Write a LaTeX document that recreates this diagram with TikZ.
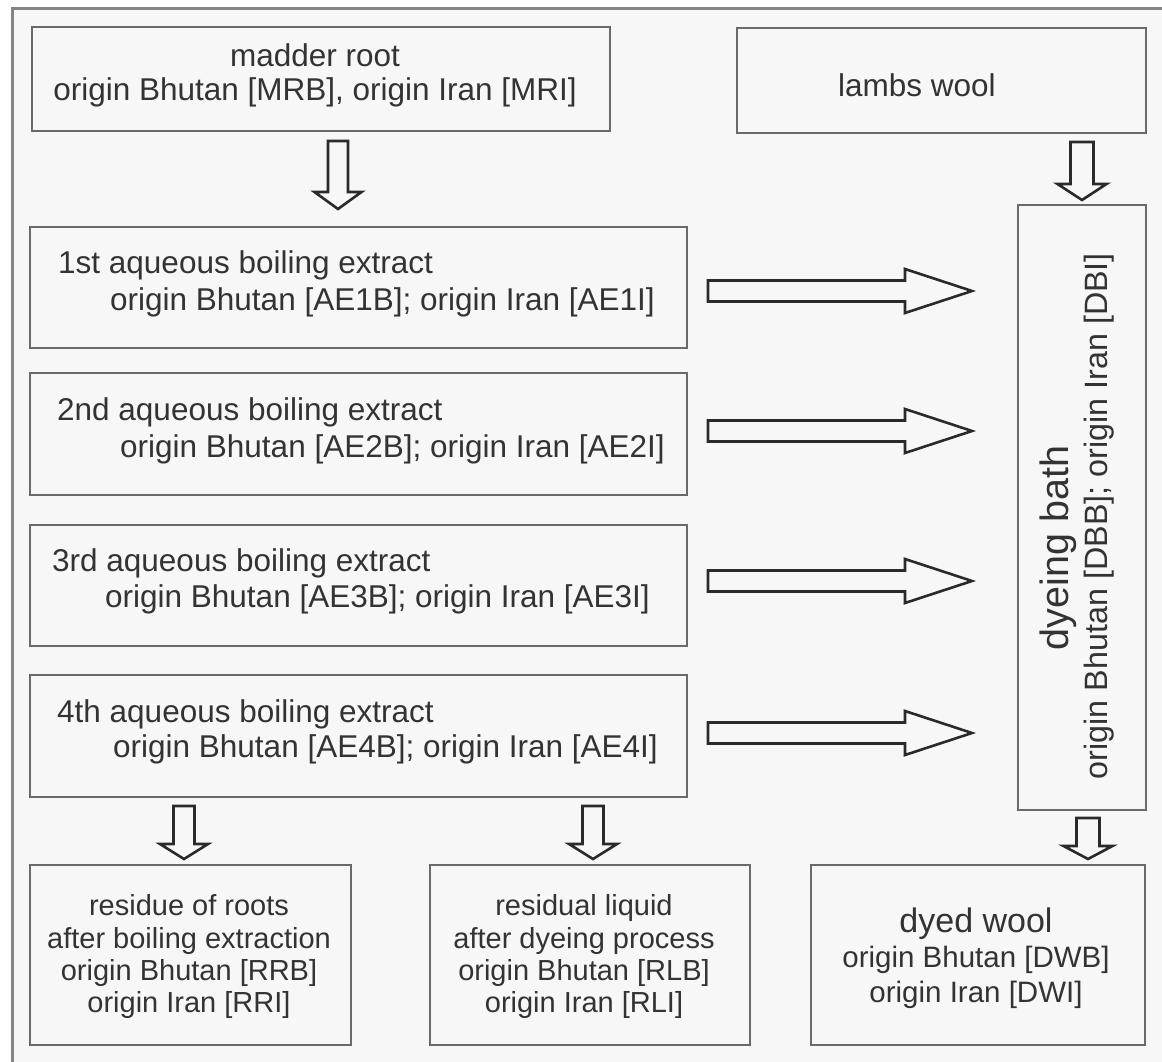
\documentclass[tikz,border=0pt]{standalone}
\usepackage{fontspec}
\setmainfont{Liberation Sans}
\usetikzlibrary{calc}
\definecolor{bgc}{HTML}{F7F7F7}
\definecolor{framec}{HTML}{858585}
\definecolor{boxc}{HTML}{6A6A6A}
\definecolor{arrc}{HTML}{2A2A2A}
\definecolor{txtc}{HTML}{333333}
\newcommand{\blkdown}[5]{%
  \draw[blk] ($(#1)+(-#3,0)$) -- ($(#2)+(-#3,-#5)$) -- ($(#2)+(-#4,-#5)$) -- (#2)
    -- ($(#2)+(#4,-#5)$) -- ($(#2)+(#3,-#5)$) -- ($(#1)+(#3,0)$) -- cycle;}
\newcommand{\blkright}[5]{%
  \draw[blk] ($(#1)+(0,-#3)$) -- ($(#2)+(-#5,-#3)$) -- ($(#2)+(-#5,-#4)$) -- (#2)
    -- ($(#2)+(-#5,#4)$) -- ($(#2)+(-#5,#3)$) -- ($(#1)+(0,#3)$) -- cycle;}
\begin{document}
\begin{tikzpicture}[x=1pt,y=-1pt,
  boxnode/.style={draw=boxc, line width=2pt, inner sep=0pt, fill=bgc},
  blk/.style={draw=arrc, line width=2.6pt, fill=bgc, line join=miter},
  txt/.style={inner sep=0pt, text=txtc, font=\fontsize{31.5}{36}\selectfont},
  stxt/.style={inner sep=0pt, text=txtc, font=\fontsize{29}{33}\selectfont}]
\useasboundingbox (0,0) rectangle (1162,1062);
\fill[white] (0,0) rectangle (1162,1062);
\fill[bgc] (12.5,8.5) rectangle (1162,1062);
\draw[framec, line width=2.5pt] (12.5,1062) -- (12.5,8.5) -- (1162,8.5);

% boxes
\node[boxnode, minimum width=578pt, minimum height=104pt] (madder) at (321,79) {};
\node[boxnode, minimum width=409pt, minimum height=105pt] (lambs) at (941.5,80.5) {};
\node[boxnode, minimum width=657pt, minimum height=121pt] (ae1) at (358.5,287.5) {};
\node[boxnode, minimum width=657pt, minimum height=122pt] (ae2) at (358.5,434) {};
\node[boxnode, minimum width=657pt, minimum height=121pt] (ae3) at (358.5,585.5) {};
\node[boxnode, minimum width=657pt, minimum height=122pt] (ae4) at (358.5,736) {};
\node[boxnode, minimum width=128pt, minimum height=605pt] (bath) at (1082,507.5) {};
\node[boxnode, minimum width=321pt, minimum height=180pt] (rr) at (190.5,955) {};
\node[boxnode, minimum width=320pt, minimum height=180pt] (rl) at (590,955) {};
\node[boxnode, minimum width=334pt, minimum height=180pt] (dw) at (978,955) {};

% texts
\node[txt, anchor=base] (madderA) at (315,67) {madder root};
\node[txt, anchor=base] (madderB) at (315,101) {origin Bhutan [MRB], origin Iran [MRI]};
\node[txt, anchor=base] (lambsA) at (917,97) {lambs wool};

\node[txt, anchor=base west] (ae1A) at (58,273) {1st aqueous boiling extract};
\node[txt, anchor=base west] (ae1B) at (110,310) {origin Bhutan [AE1B]; origin Iran [AE1I]};
\node[txt, anchor=base west] (ae2A) at (57,420) {2nd aqueous boiling extract};
\node[txt, anchor=base west] (ae2B) at (120,457) {origin Bhutan [AE2B]; origin Iran [AE2I]};
\node[txt, anchor=base west] (ae3A) at (52,571) {3rd aqueous boiling extract};
\node[txt, anchor=base west] (ae3B) at (105,607) {origin Bhutan [AE3B]; origin Iran [AE3I]};
\node[txt, anchor=base west] (ae4A) at (57,722) {4th aqueous boiling extract};
\node[txt, anchor=base west] (ae4B) at (113,757) {origin Bhutan [AE4B]; origin Iran [AE4I]};

\node[inner sep=0pt, text=txtc, font=\fontsize{39.5}{44}\selectfont, rotate=90, anchor=base] (bathA) at (1068,548) {dyeing bath};
\node[inner sep=0pt, text=txtc, font=\fontsize{32.3}{36}\selectfont, rotate=90, anchor=base] (bathB) at (1107,516) {origin Bhutan [DBB]; origin Iran [DBI]};

\node[stxt, anchor=base] (rrA) at (189,915) {residue of roots};
\node[stxt, anchor=base] (rrB) at (189,948) {after boiling extraction};
\node[stxt, anchor=base] (rrC) at (189,980) {origin Bhutan [RRB]};
\node[stxt, anchor=base] (rrD) at (189,1012) {origin Iran [RRI]};
\node[stxt, anchor=base] (rlA) at (584,915) {residual liquid};
\node[stxt, anchor=base] (rlB) at (584,948) {after dyeing process};
\node[stxt, anchor=base] (rlC) at (584,980) {origin Bhutan [RLB]};
\node[stxt, anchor=base] (rlD) at (584,1012) {origin Iran [RLI]};
\node[inner sep=0pt, text=txtc, font=\fontsize{34}{38}\selectfont, anchor=base] (dwA) at (976,932) {dyed wool};
\node[inner sep=0pt, text=txtc, font=\fontsize{29.5}{33}\selectfont, anchor=base] (dwB) at (976,967) {origin Bhutan [DWB]};
\node[inner sep=0pt, text=txtc, font=\fontsize{29.5}{33}\selectfont, anchor=base] (dwC) at (976,1002) {origin Iran [DWI]};

% arrow end points
\coordinate (m1) at (338,141);   \coordinate (m2) at (338,209);
\coordinate (l1) at (1082,142);  \coordinate (l2) at (1082,200);
\coordinate (h1s) at (708,291);  \coordinate (h1e) at (972,291);
\coordinate (h2s) at (708,431);  \coordinate (h2e) at (972,431);
\coordinate (h3s) at (708,581);  \coordinate (h3e) at (972,581);
\coordinate (h4s) at (708,733);  \coordinate (h4e) at (972,733);
\coordinate (b1s) at (184,806);  \coordinate (b1e) at (184,859);
\coordinate (b2s) at (593,806);  \coordinate (b2e) at (593,859);
\coordinate (b3s) at (1088,818); \coordinate (b3e) at (1088,859);

\blkdown{m1}{m2}{10}{23.5}{17}
\blkdown{l1}{l2}{11.5}{24.5}{16}
\blkright{h1s}{h1e}{10.5}{22}{67}
\blkright{h2s}{h2e}{10.5}{22}{67}
\blkright{h3s}{h3e}{10.5}{22}{67}
\blkright{h4s}{h4e}{10.5}{22}{67}
\blkdown{b1s}{b1e}{10.5}{24}{15}
\blkdown{b2s}{b2e}{10.5}{24}{15}
\blkdown{b3s}{b3e}{11.5}{24.5}{13}
\end{tikzpicture}
\end{document}
